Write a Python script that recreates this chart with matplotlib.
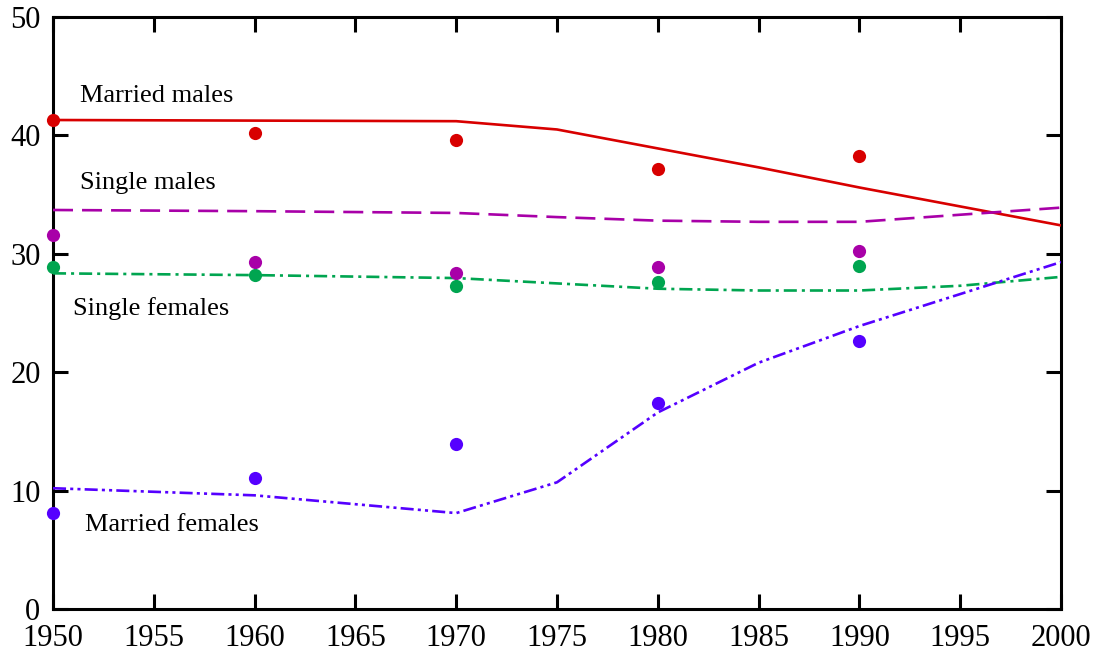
import numpy as np
import matplotlib
matplotlib.use('Agg')
import matplotlib.pyplot as plt

# fitted curves
line_years = [1950, 1960, 1970, 1975, 1980, 1985, 1990, 1995, 2000]
married_males_fit = [41.3, 41.25, 41.2, 40.5, 38.9, 37.3, 35.6, 34.0, 32.4]
single_males_fit = [33.7, 33.6, 33.45, 33.1, 32.8, 32.7, 32.7, 33.3, 33.9]
single_females_fit = [28.35, 28.2, 27.95, 27.5, 27.05, 26.9, 26.9, 27.3, 28.05]
married_females_fit = [10.2, 9.6, 8.1, 10.7, 16.6, 20.8, 23.9, 26.6, 29.3]

# observed points
dot_years = [1950, 1960, 1970, 1980, 1990]
married_males_obs = [41.3, 40.2, 39.6, 37.2, 38.3]
single_males_obs = [31.6, 29.3, 28.4, 28.9, 30.2]
single_females_obs = [28.9, 28.2, 27.3, 27.6, 29.0]
married_females_obs = [8.1, 11.1, 13.9, 17.4, 22.6]

RED = "#d80000"
PURPLE = "#a800a8"
GREEN = "#00a550"
BLUE = "#5500ff"

plt.rcParams['font.family'] = ['Liberation Serif', 'DejaVu Serif']
plt.rcParams['lines.scale_dashes'] = False

fig = plt.figure(figsize=(11.01, 6.54), dpi=100)
ax = fig.add_axes([53 / 1101, 1 - 609 / 654, (1061 - 53) / 1101, (609 - 17) / 654])

lw = 1.9
ax.plot(line_years, married_males_fit, color=RED, lw=lw, zorder=3)
ax.plot(line_years, single_males_fit, color=PURPLE, lw=lw,
        dashes=(14.4, 6.5), zorder=3)
ax.plot(line_years, single_females_fit, color=GREEN, lw=lw,
        dashes=(9.4, 3.6, 2.2, 3.6), zorder=3)
ax.plot(line_years, married_females_fit, color=BLUE, lw=lw,
        dashes=(9.4, 3.0, 2.2, 3.0, 2.2, 3.0), zorder=3)

ms = 9.5
for obs, c in [(married_males_obs, RED), (single_males_obs, PURPLE),
               (single_females_obs, GREEN), (married_females_obs, BLUE)]:
    ax.plot(dot_years, obs, 'o', color=c, ms=ms, mec='none', zorder=4, clip_on=False)

label_size = 19
ax.text(1951.35, 43.3, "Married males", fontsize=label_size, va='center')
ax.text(1951.35, 36.0, "Single males", fontsize=label_size, va='center')
ax.text(1951.0, 25.4, "Single females", fontsize=label_size, va='center')
ax.text(1951.6, 7.1, "Married females", fontsize=label_size, va='center')

ax.set_xlim(1950, 2000)
ax.set_ylim(0, 50)
ax.set_xticks(np.arange(1950, 2001, 5))
ax.set_yticks(np.arange(0, 51, 10))
ax.tick_params(direction='in', length=11, width=2.2, labelsize=22,
               top=True, right=True)
ax.tick_params(axis='x', pad=11)
ax.tick_params(axis='y', pad=9)
for sp in ax.spines.values():
    sp.set_linewidth(2.2)

fig.savefig("out.png", dpi=100)
plt.close(fig)
